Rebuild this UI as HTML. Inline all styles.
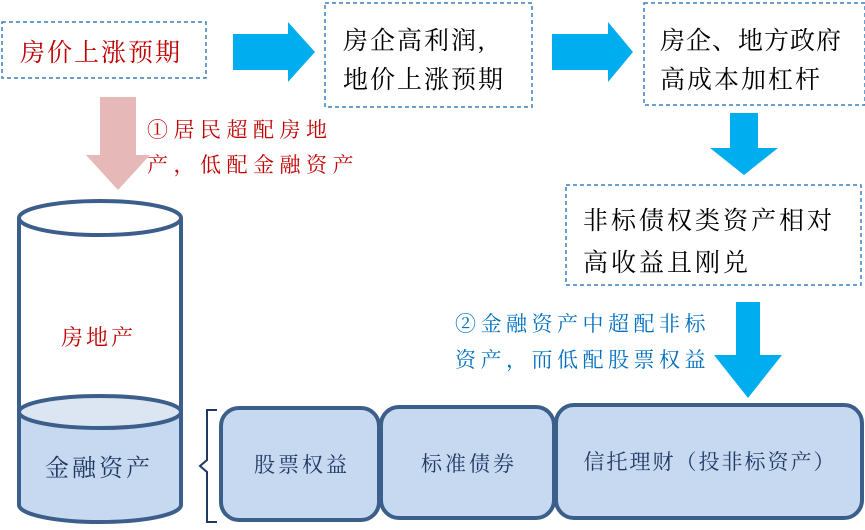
<!DOCTYPE html>
<html><head><meta charset="utf-8"><style>
html,body{margin:0;padding:0;background:#fff;}
svg{display:block}
text{font-family:"Liberation Serif","Noto Serif CJK SC","Noto Sans CJK SC",serif;}
</style></head><body>
<svg width="865" height="530" viewBox="0 0 865 530" xmlns="http://www.w3.org/2000/svg">
<g fill="none" stroke="#3b7fc4" stroke-width="1.5" stroke-dasharray="4,3">
<rect x="2" y="22" width="204" height="56"/>
<rect x="325" y="3" width="207" height="104"/>
<rect x="644" y="3" width="221" height="102"/>
<rect x="566" y="185" width="295" height="100"/>
</g>
<g fill="#00AEEF">
<polygon points="233,34 288,34 288,22 315,52 288,82 288,70 233,70"/>
<polygon points="552,34 608,34 608,22 633,52 608,82 608,70 552,70"/>
<polygon points="730,113 758,113 758,148 778,148 744,175 710,148 730,148"/>
<polygon points="736,302 760,302 760,355 782,355 748,398 714,355 736,355"/>
</g>
<polygon points="100,97 136,97 136,155 150,155 118,190 86,155 100,155" fill="#E6B8B7"/>
<g font-size="25" letter-spacing="2">
<text x="20" y="61" fill="#C00000">房价上涨预期</text>
<text x="343" y="49" fill="#000">房企高利润,</text>
<text x="343" y="88" fill="#000">地价上涨预期</text>
<text x="660" y="49" fill="#000" letter-spacing="1">房企、地方政府</text>
<text x="660" y="88" fill="#000">高成本加杠杆</text>
<text x="583" y="229" fill="#000" letter-spacing="3">非标债权类资产相对</text>
<text x="583" y="271" fill="#000" letter-spacing="3">高收益且刚兑</text>
</g>
<g font-size="21" fill="#C00000" letter-spacing="5.5">
<text x="147" y="137">①居民超配房地</text>
<text x="147" y="172">产，低配金融资产</text>
</g>
<g font-size="21" fill="#0070C0" letter-spacing="4.5">
<text x="455" y="331">②金融资产中超配非标</text>
<text x="455" y="367">资产，而低配股票权益</text>
</g>
<path d="M19,412 L19,505 A81,17 0 0 0 181,505 L181,412 Z" fill="#C6D9F0"/>
<ellipse cx="100" cy="412" rx="81" ry="16" fill="#DCE6F2" stroke="#3C5E8A" stroke-width="4"/>
<ellipse cx="100" cy="218" rx="81" ry="17" fill="#fff" stroke="#3C5E8A" stroke-width="4"/>
<path d="M19,218 L19,505 A81,17 0 0 0 181,505 L181,218" fill="none" stroke="#3C5E8A" stroke-width="4"/>
<text x="61" y="345" font-size="22" fill="#C00000" letter-spacing="3">房地产</text>
<text x="45" y="476" font-size="24" fill="#1F3864" letter-spacing="3">金融资产</text>
<path d="M217,410 L207,410 L207,460 L200,466 L207,472 L207,522 L217,522" fill="none" stroke="#1F3864" stroke-width="2"/>
<g fill="#C6D9F0" stroke="#3C5E8A" stroke-width="4">
<rect x="221" y="408" width="158" height="112" rx="18"/>
<rect x="381" y="407" width="173" height="111" rx="18"/>
<rect x="556" y="405" width="306" height="113" rx="18"/>
</g>
<g font-size="21" fill="#1F3864" text-anchor="middle" letter-spacing="3">
<text x="302" y="472">股票权益</text>
<text x="469" y="471">标准债券</text>
<text x="710" y="469" letter-spacing="2">信托理财（投非标资产）</text>
</g>
</svg>
</body></html>
